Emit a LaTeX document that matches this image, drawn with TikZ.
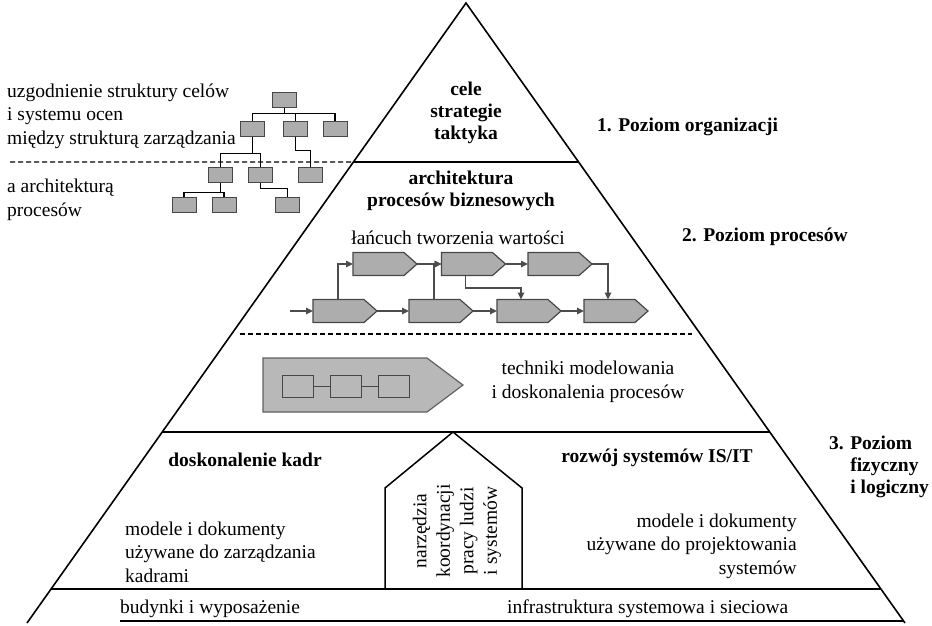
\documentclass[tikz,border=0pt]{standalone}
\usepackage{fontspec}
\setmainfont{Liberation Serif}
\usetikzlibrary{arrows.meta,calc}
\definecolor{boxfill}{gray}{0.68}
\definecolor{boxdraw}{gray}{0.28}
\definecolor{arrgray}{gray}{0.30}
\definecolor{bigfill}{gray}{0.72}
\begin{document}
\begin{tikzpicture}[x=1pt,y=-1pt,
  pyr/.style={line width=1.6pt},
  lvl/.style={line width=1.8pt},
  dashline/.style={line width=1.1pt, dash pattern=on 5pt off 3pt},
  orgbox/.style={draw=boxdraw, fill=boxfill, line width=1pt, minimum width=24pt, minimum height=15pt, inner sep=0pt},
  orgline/.style={line width=1.5pt},
  chainbox/.style={rectangle, minimum width=64pt, minimum height=23pt, inner sep=0pt, outer sep=0pt},
  chainshape/.style={draw=boxdraw, fill=boxfill, line width=1.2pt, line join=miter},
  flow/.style={draw=arrgray, line width=1.6pt, -{Triangle[length=7pt,width=6.5pt]}},
  txt/.style={font=\fontsize{19.5}{23.5}\selectfont, inner sep=0pt, align=left},
  btxt/.style={font=\fontsize{19.5}{22}\selectfont\bfseries, inner sep=0pt, align=center},
  minibox/.style={draw=boxdraw, line width=1pt, minimum width=31pt, minimum height=22pt, inner sep=0pt},
]
\path[use as bounding box] (0,0) rectangle (932,625);

% pyramid
\coordinate (apex) at (466,3);
\coordinate (bl) at (27,623);
\coordinate (br) at (905,623);
\draw[pyr] (bl) -- (apex) -- (br);
\coordinate (l1a) at ($(apex)!0.2565!(bl)$);
\coordinate (l1b) at ($(apex)!0.2565!(br)$);
\coordinate (l2a) at ($(apex)!0.5339!(bl)$);
\coordinate (l2b) at ($(apex)!0.5339!(br)$);
\coordinate (l3a) at ($(apex)!0.6919!(bl)$);
\coordinate (l3b) at ($(apex)!0.6919!(br)$);
\coordinate (l4a) at ($(apex)!0.9452!(bl)$);
\coordinate (l4b) at ($(apex)!0.9452!(br)$);
\coordinate (l5b) at ($(apex)!0.9968!(br)$);
\coordinate (basestart) at (120,621);
\coordinate (lftdash) at (10,162);
\draw[lvl] (l1a) -- (l1b);
\draw[dashline] (lftdash) -- (l1a);
\draw[dashline] ($(l2a)+(8,0)$) -- ($(l2b)+(-8,0)$);
\draw[lvl] (l3a) -- (l3b);
\draw[lvl] (l4a) -- (l4b);
\draw[lvl] (basestart) -- (l5b);

% org chart
\node[orgbox] (o0) at (284.5,99.5) {};
\node[orgbox] (o1) at (252.5,128.5) {};
\node[orgbox] (o2) at (295.5,128.5) {};
\node[orgbox] (o3) at (335,128.5) {};
\node[orgbox] (o4) at (220.5,174.5) {};
\node[orgbox] (o5) at (260.5,174.5) {};
\node[orgbox] (o6) at (310.5,174.5) {};
\node[orgbox] (o7) at (184,205) {};
\node[orgbox] (o8) at (224,205) {};
\node[orgbox] (o9) at (287.5,205) {};
\draw[orgline] (o0.south) -- ++(0,6);
\draw[orgline] (o1.north) |- ($(o0.south)+(0,6)$) -| (o3.north);
\draw[orgline] (o2.north) -- ++(0,-8);
\draw[orgline] (o1.south) -- ++(0,17);
\draw[orgline] (o4.north) |- ($(o1.south)+(0,17)$) -| (o5.north);
\draw[orgline] (o2.south) -- ++(0,14) -| (o6.north);
\draw[orgline] (o4.south) -- ++(0,10);
\draw[orgline] (o7.north) |- ($(o4.south)+(0,10)$) -| (o8.north);
\draw[orgline] (o5.south) -- ++(0,6) -| (o9.north);

% value chain
\node[chainbox] (t1) at (385,264) {};
\node[chainbox] (t2) at (473.5,264) {};
\node[chainbox] (t3) at (560,264) {};
\node[chainbox] (b1) at (345,311) {};
\node[chainbox] (b2) at (441,311) {};
\node[chainbox] (b3) at (529,311) {};
\node[chainbox] (b4) at (616,311) {};
\foreach \n in {t1,t2,t3,b1,b2,b3,b4}
  \draw[chainshape] (\n.north west) -- ([xshift=-13pt]\n.north east) -- (\n.east)
    -- ([xshift=-13pt]\n.south east) -- (\n.south west) -- cycle;
\coordinate (in) at (290,311);
\draw[flow] (in) -- (b1.west);
\draw[flow] (b1.east) -- (b2.west);
\draw[flow] (b2.east) -- (b3.west);
\draw[flow] (b3.east) -- (b4.west);
\draw[flow] ([xshift=-7pt]b1.north) |- (t1.west);
\draw[flow] (t1.east) -- (t2.west);
\draw[flow] ([xshift=-7pt]b2.north) |- (t2.west);
\draw[flow] (t2.east) -- (t3.west);
\draw[flow] ([xshift=-8pt]t2.south) -- ++(0,12.5) -| ([xshift=-8pt]b3.north);
\draw[flow] (t3.east) -| ([xshift=-8pt]b4.north);

% modelling
\node[rectangle, minimum width=200pt, minimum height=54pt, inner sep=0pt, outer sep=0pt] (model) at (363,385) {};
\draw[draw=gray!75!black, fill=bigfill, line width=1.2pt] (model.north west) -- ([xshift=-36pt]model.north east)
  -- (model.east) -- ([xshift=-36pt]model.south east) -- (model.south west) -- cycle;
\node[minibox] (m1) at (298,386) {};
\node[minibox] (m2) at (346,386) {};
\node[minibox] (m3) at (394,386) {};
\draw[boxdraw, line width=1pt] (m1) -- (m2);
\draw[boxdraw, line width=1pt] (m2) -- (m3);

% house
\coordinate (hbl) at (385,589);
\coordinate (hl) at (385,488);
\coordinate (htop) at (453,432);
\coordinate (hr) at (522,488);
\coordinate (hbr) at (522,589);
\draw[line width=1.5pt] (hbl) -- (hl) -- (htop) -- (hr) -- (hbr);
\node[txt, align=center, rotate=90] (coord) at (457,531) {narzędzia\\koordynacji\\pracy ludzi\\i systemów};

% texts
\node[txt, anchor=west] (uzg) at (7,116) {uzgodnienie struktury celów\\i systemu ocen\\między strukturą zarządzania};
\node[txt, anchor=west] (arch) at (7,200) {a architekturą\\procesów};
\node[btxt] (cele) at (466,113) {cele\\strategie\\taktyka};
\node[btxt] (apb) at (461,191) {architektura\\procesów biznesowych};
\node[txt] (lanc) at (458,238) {łańcuch tworzenia wartości};
\node[txt, align=center] (tech) at (588,382) {techniki modelowania\\i doskonalenia procesów};
\node[btxt] (kadr) at (245,460) {doskonalenie kadr};
\node[txt, anchor=west] (mk) at (125,552) {modele i dokumenty\\używane do zarządzania\\kadrami};
\node[btxt] (rozw) at (657,458) {rozwój systemów IS/IT};
\node[txt, align=right, anchor=east] (mp) at (797,546) {modele i dokumenty\\używane do projektowania\\systemów};
\node[txt, anchor=west] (bud) at (120,609) {budynki i wyposażenie};
\node[txt, anchor=west] (infra) at (507,609) {infrastruktura systemowa i sieciowa};
\node[btxt, anchor=west] (p1) at (597,127) {1. Poziom organizacji};
\node[btxt, anchor=west] (p2) at (682,237) {2. Poziom procesów};
\node[btxt, anchor=west, align=left] (p3) at (829,467) {3. Poziom\\\phantom{3. }fizyczny\\\phantom{3. }i logiczny};
\end{tikzpicture}
\end{document}
